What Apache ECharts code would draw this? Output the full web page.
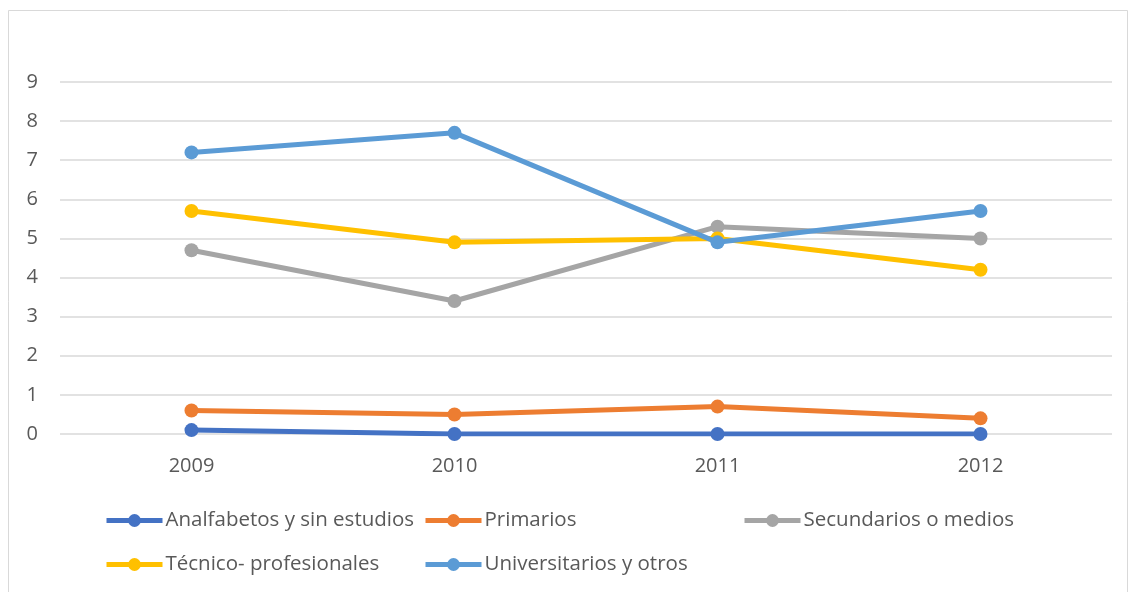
<!DOCTYPE html>
<html>
<head>
<meta charset="utf-8">
<script src="https://cdn.jsdelivr.net/npm/echarts@6/dist/echarts.min.js"></script>
<style>html,body{margin:0;padding:0;background:#fff}#c{width:1130px;height:592px}</style>
</head>
<body>
<div id="c"></div>
<script>
const categories = ['2009', '2010', '2011', '2012'];
const seriesNames = ['Analfabetos y sin estudios', 'Primarios', 'Secundarios o medios', 'Técnico- profesionales', 'Universitarios y otros'];
const analfabetos = [0.1, 0, 0, 0];
const primarios = [0.6, 0.5, 0.7, 0.4];
const secundarios = [4.7, 3.4, 5.3, 5.0];
const tecnico = [5.7, 4.9, 5.0, 4.2];
const universitarios = [7.2, 7.7, 4.9, 5.7];
const yTicks = [0, 1, 2, 3, 4, 5, 6, 7, 8, 9];

const values = [analfabetos, primarios, secundarios, tecnico, universitarios];
const colors = ['#4472C4', '#ED7D31', '#A5A5A5', '#FFC000', '#5B9BD5'];
const FONT = 'Open Sans';
const legendPos = [[99, 505], [418, 505], [737, 505], [99, 549], [418, 549]];

const chart = echarts.init(document.getElementById('c'), null, {renderer: 'canvas'});
chart.setOption({
  animation: false,
  backgroundColor: '#fff',
  textStyle: {fontFamily: FONT},
  graphic: [{type: 'rect', shape: {x: 8.5, y: 10.5, width: 1119, height: 600}, style: {fill: 'none', stroke: '#D9D9D9', lineWidth: 1}, silent: true}],
  grid: {left: 60, right: 18, top: 82, bottom: 158, containLabel: false},
  legend: seriesNames.map((n, i) => ({
    data: [n], left: legendPos[i][0], top: legendPos[i][1], itemWidth: 56, itemHeight: 16, itemGap: 0,
    lineStyle: {width: 5},
    textStyle: {fontSize: 20.5, color: '#595959', fontFamily: FONT, padding: [0, 0, 0, -2]}
  })),
  xAxis: {
    type: 'category', data: categories, boundaryGap: true,
    axisLine: {show: false}, axisTick: {show: false},
    axisLabel: {fontSize: 20, color: '#595959', margin: 22, fontFamily: FONT},
    splitLine: {show: false}
  },
  yAxis: {
    type: 'value', min: yTicks[0], max: yTicks[yTicks.length - 1], interval: 1,
    axisLine: {show: false}, axisTick: {show: false},
    axisLabel: {fontSize: 20, color: '#595959', margin: 22, fontFamily: FONT},
    splitLine: {lineStyle: {color: '#D9D9D9', width: 1.5}}
  },
  series: seriesNames.map((n, i) => ({
    name: n, type: 'line', data: values[i], symbol: 'circle', symbolSize: 14,
    lineStyle: {width: 5, color: colors[i]}, itemStyle: {color: colors[i]}, z: 2 + i
  }))
});
</script>
</body>
</html>
